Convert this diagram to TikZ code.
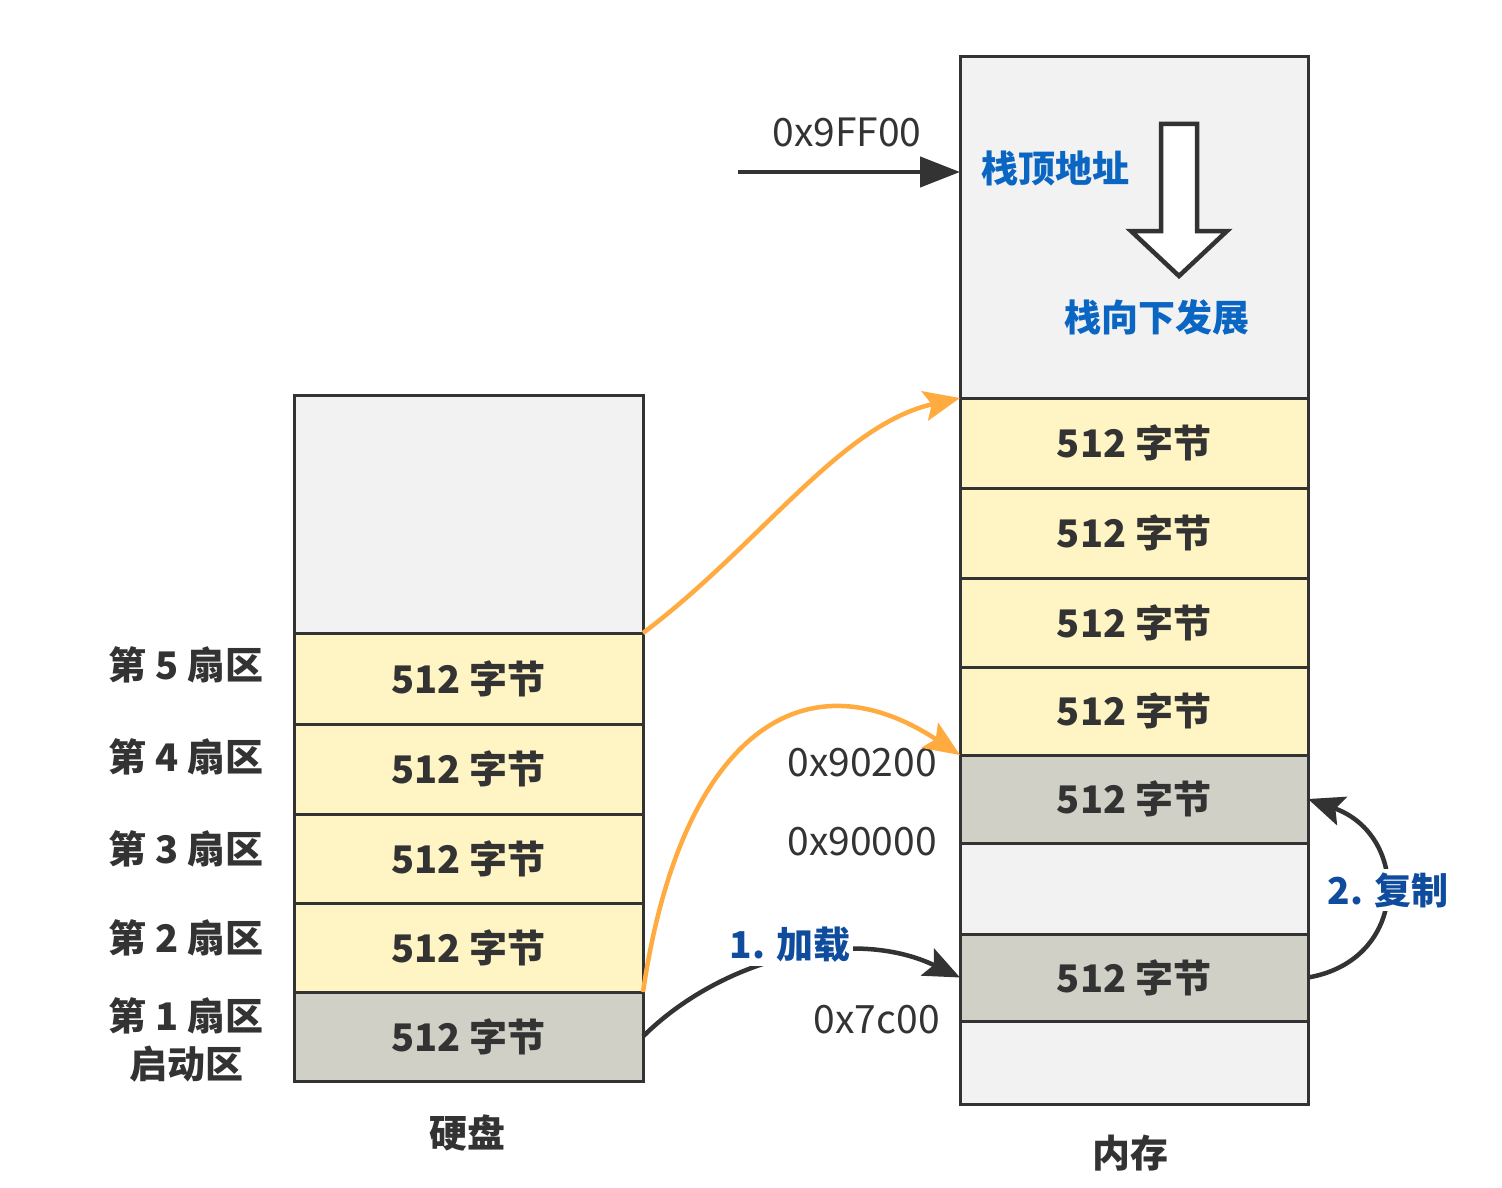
\documentclass[tikz,border=0pt]{standalone}
\usepackage{fontspec}
\setmainfont{Noto Sans CJK SC}
\usetikzlibrary{arrows.meta}
\definecolor{linec}{HTML}{333333}
\definecolor{lightc}{HTML}{F2F2F2}
\definecolor{yelc}{HTML}{FFF4C3}
\definecolor{darkc}{HTML}{D0D0C7}
\definecolor{orc}{HTML}{FFAB40}
\definecolor{bluea}{HTML}{0A66C2}
\definecolor{blueb}{HTML}{0F4C9E}
\begin{document}
\begin{tikzpicture}[x=1pt,y=-1pt,
  cell/.style={draw=linec, line width=3pt, inner sep=0pt, outer sep=0pt, text=linec,
    font=\fontsize{38}{44}\selectfont\bfseries},
  mcell/.style={cell, minimum width=348pt},
  dcell/.style={cell, minimum width=349pt},
  emptyc/.style={fill=lightc},
  yc/.style={fill=yelc},
  gc/.style={fill=darkc},
  addr/.style={text=linec, inner sep=0pt, font=\fontsize{39}{46}\selectfont},
  sect/.style={text=linec, inner sep=0pt, align=center, font=\fontsize{38}{48}\selectfont\bfseries},
  bluetxt/.style={text=bluea, inner sep=0pt, font=\fontsize{37}{44}\selectfont\bfseries},
  steptxt/.style={text=blueb, fill=white, inner sep=3pt, font=\fontsize{37}{44}\selectfont\bfseries},
  orarrow/.style={draw=orc, line width=4.5pt, -{Stealth[length=36pt,width=30pt,inset=7pt]}},
  blkarrow/.style={draw=linec, line width=4.5pt, -{Stealth[length=36pt,width=30pt,inset=7pt]}},
]
\useasboundingbox (0,0) rectangle (1502,1188);

% memory column
\node[mcell, emptyc, minimum height=341pt] (mtop) at (1134,227.5) {};
\node[mcell, yc, minimum height=90pt] (m5) at (1134,443) {512 字节};
\node[mcell, yc, minimum height=90pt] (m4) at (1134,533) {512 字节};
\node[mcell, yc, minimum height=89pt] (m3) at (1134,622.5) {512 字节};
\node[mcell, yc, minimum height=88pt] (m2) at (1134,711) {512 字节};
\node[mcell, gc, minimum height=88pt] (mb2) at (1134,799) {512 字节};
\node[mcell, emptyc, minimum height=91pt] (mgap) at (1134,888.5) {};
\node[mcell, gc, minimum height=87pt] (mb1) at (1134,977.5) {512 字节};
\node[mcell, emptyc, minimum height=83pt] (mbot) at (1134,1062.5) {};

% disk column
\node[dcell, emptyc, minimum height=238pt] (dtop) at (468.5,514) {};
\node[dcell, yc, minimum height=91pt] (d5) at (468.5,678.5) {512 字节};
\node[dcell, yc, minimum height=90pt] (d4) at (468.5,769) {512 字节};
\node[dcell, yc, minimum height=89pt] (d3) at (468.5,858.5) {512 字节};
\node[dcell, yc, minimum height=89pt] (d2) at (468.5,947.5) {512 字节};
\node[dcell, gc, minimum height=89pt] (d1) at (468.5,1036.5) {512 字节};

% sector labels
\node[sect] (l5) at (186,665) {第 5 扇区};
\node[sect] (l4) at (186,757) {第 4 扇区};
\node[sect] (l3) at (186,849) {第 3 扇区};
\node[sect] (l2) at (186,938) {第 2 扇区};
\node[sect] (l1) at (186,1040) {第 1 扇区\\启动区};

% titles
\node[sect] (disk) at (467,1133) {硬盘};
\node[sect] (mem) at (1130,1153) {内存};

% addresses
\node[addr] (a9ff) at (847,132) {0x9FF00};
\node[addr, anchor=east] (a902) at (937,763) {0x90200};
\node[addr, anchor=east] (a900) at (937,842) {0x90000};
\node[addr, anchor=east] (a7c) at (940,1020) {0x7c00};

% stack labels
\node[bluetxt] (stop) at (1055,168) {栈顶地址};
\node[bluetxt] (sgrow) at (1157,317) {栈向下发展};

% big hollow arrow
\draw[draw=linec, fill=white, line width=4.5pt, line join=miter]
  (1161,124) -- (1197,124) -- (1197,231) -- (1227,231) -- (1179,276)
  -- (1131,231) -- (1161,231) -- cycle;

% 0x9FF00 pointer
\coordinate (sp) at (738,172);
\draw[blkarrow, -{Triangle[length=40pt,width=30pt]}] (sp) -- (sp -| mtop.west);

% orange load arrows
\draw[orarrow] (d5.north east) .. controls (760,545) and (840,425) .. (m5.north west);
\draw[orarrow] (d2.south east) .. controls (680,740) and (800,650) .. (m2.south west);

% 1. load
\draw[blkarrow] (d1.east) .. controls (720,960) and (850,925) .. (mb1.west);
\node[steptxt] (load) at (790,945) {1. 加载};

% 2. copy
\draw[blkarrow] (mb1.east) .. controls (1410,960) and (1410,835) .. (mb2.east);
\node[steptxt] (copy) at (1388,890) {2. 复制};
\end{tikzpicture}
\end{document}
